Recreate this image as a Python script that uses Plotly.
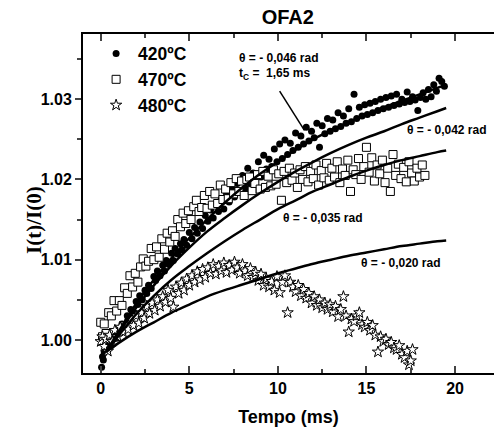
import plotly.graph_objects as go

# ---- fitted curves ----
fit_x = [0.3, 1, 2, 3, 4, 5, 6, 7, 8, 9, 10, 11, 12, 13, 14, 15, 16, 17, 18, 19, 19.5]
fit_046 = [0.9985, 1.0010, 1.0045, 1.0075, 1.0102, 1.0127, 1.0150, 1.0171, 1.0190, 1.0207, 1.0222,
           1.0237, 1.0250, 1.0261, 1.0271, 1.0281, 1.0290, 1.0298, 1.0306, 1.0314, 1.0318]
fit_042 = [0.9985, 1.0008, 1.0040, 1.0068, 1.0093, 1.0115, 1.0135, 1.0152, 1.0168, 1.0183, 1.0197,
           1.0210, 1.0222, 1.0233, 1.0243, 1.0252, 1.0260, 1.0269, 1.0277, 1.0285, 1.0289]
fit_035 = [0.9985, 1.0005, 1.0032, 1.0055, 1.0075, 1.0092, 1.0108, 1.0123, 1.0137, 1.0150, 1.0163,
           1.0174, 1.0185, 1.0194, 1.0203, 1.0211, 1.0218, 1.0224, 1.0229, 1.0234, 1.0236]
fit_020 = [0.9985, 0.9996, 1.0010, 1.0022, 1.0034, 1.0044, 1.0054, 1.0062, 1.0069, 1.0076, 1.0083,
           1.0089, 1.0095, 1.0100, 1.0105, 1.0109, 1.0113, 1.0117, 1.0120, 1.0123, 1.0124]

pts420 = [
    (0.05, 0.9966), (0.1, 0.9979), (0.15, 0.9975), (0.2, 0.9984), (0.3, 0.9990), (0.4, 0.9987),
    (0.5, 0.9996), (0.6, 0.9993), (0.7, 1.0001), (0.8, 1.0006), (0.9, 1.0002), (1.0, 1.0012),
    (1.1, 1.0010), (1.2, 1.0020), (1.35, 1.0018), (1.5, 1.0030), (1.6, 1.0026), (1.7, 1.0038),
    (1.85, 1.0034), (2.0, 1.0048), (2.1, 1.0044), (2.2, 1.0055), (2.35, 1.0050), (2.5, 1.0062),
    (2.6, 1.0058), (2.7, 1.0068), (2.85, 1.0064), (3.0, 1.0079), (3.1, 1.0074), (3.2, 1.0086),
    (3.35, 1.0080), (3.5, 1.0093), (3.6, 1.0086), (3.7, 1.0099), (3.85, 1.0094), (4.0, 1.0108),
    (4.1, 1.0099), (4.2, 1.0114), (4.35, 1.0107), (4.5, 1.0120), (4.6, 1.0112), (4.7, 1.0125),
    (4.85, 1.0118), (5.0, 1.0134), (5.15, 1.0126), (5.3, 1.0140), (5.45, 1.0133), (5.6, 1.0147),
    (5.75, 1.0139), (5.9, 1.0155), (6.05, 1.0148), (6.2, 1.0162), (6.35, 1.0152), (6.5, 1.0168),
    (6.65, 1.0160), (6.8, 1.0175), (6.95, 1.0163), (7.1, 1.0182), (7.25, 1.0172), (7.4, 1.0190),
    (7.55, 1.0178), (7.7, 1.0195), (7.85, 1.0184), (8.0, 1.0205), (8.15, 1.0189), (8.3, 1.0214),
    (8.45, 1.0194), (8.6, 1.0208), (8.75, 1.0200), (8.9, 1.0222), (9.05, 1.0203), (9.2, 1.0230),
    (9.35, 1.0213), (9.5, 1.0225), (9.65, 1.0216), (9.8, 1.0238), (9.95, 1.0222), (10.1, 1.0244),
    (10.25, 1.0226), (10.4, 1.0249), (10.55, 1.0231), (10.7, 1.0245), (10.85, 1.0236), (11.0, 1.0258),
    (11.15, 1.0240), (11.3, 1.0254), (11.45, 1.0244), (11.6, 1.0265), (11.75, 1.0248), (11.9, 1.0260),
    (12.05, 1.0252), (12.2, 1.0270), (12.35, 1.0240), (12.5, 1.0267), (12.65, 1.0257), (12.8, 1.0276),
    (12.95, 1.0260), (13.1, 1.0274), (13.25, 1.0263), (13.4, 1.0283), (13.55, 1.0266), (13.7, 1.0279),
    (13.85, 1.0270), (14.0, 1.0288), (14.15, 1.0272), (14.3, 1.0306), (14.45, 1.0276), (14.6, 1.0290),
    (14.75, 1.0279), (14.9, 1.0293), (15.05, 1.0281), (15.2, 1.0295), (15.35, 1.0283), (15.5, 1.0297),
    (15.65, 1.0286), (15.8, 1.0300), (15.95, 1.0288), (16.1, 1.0302), (16.25, 1.0290), (16.4, 1.0304),
    (16.55, 1.0292), (16.7, 1.0306), (16.85, 1.0294), (17.0, 1.0300), (17.15, 1.0296), (17.3, 1.0309),
    (17.45, 1.0297), (17.6, 1.0303), (17.75, 1.0299), (17.9, 1.0286), (18.05, 1.0302), (18.2, 1.0308),
    (18.35, 1.0300), (18.5, 1.0312), (18.65, 1.0303), (18.8, 1.0318), (18.95, 1.0310), (19.1, 1.0326),
    (19.25, 1.0322), (19.4, 1.0316),
]

pts470 = [
    (0.0, 1.0022), (0.1, 1.0004), (0.2, 1.0020), (0.3, 1.0008), (0.45, 1.0034), (0.6, 1.0030),
    (0.75, 1.0049), (0.9, 1.0036), (1.05, 1.0049), (1.2, 1.0043), (1.35, 1.0065), (1.5, 1.0058),
    (1.65, 1.0080), (1.8, 1.0066), (1.95, 1.0083), (2.1, 1.0072), (2.25, 1.0091), (2.4, 1.0101),
    (2.55, 1.0092), (2.7, 1.0098), (2.85, 1.0114), (3.0, 1.0100), (3.15, 1.0116), (3.3, 1.0103),
    (3.45, 1.0126), (3.6, 1.0113), (3.75, 1.0133), (3.9, 1.0122), (4.05, 1.0136), (4.2, 1.0129),
    (4.35, 1.0150), (4.5, 1.0141), (4.65, 1.0158), (4.8, 1.0145), (4.95, 1.0161), (5.1, 1.0150),
    (5.25, 1.0166), (5.4, 1.0174), (5.55, 1.0160), (5.7, 1.0165), (5.85, 1.0180), (6.0, 1.0164),
    (6.15, 1.0185), (6.3, 1.0168), (6.45, 1.0182), (6.6, 1.0170), (6.75, 1.0193), (6.9, 1.0175),
    (7.05, 1.0188), (7.2, 1.0176), (7.35, 1.0196), (7.5, 1.0182), (7.65, 1.0201), (7.8, 1.0185),
    (7.95, 1.0198), (8.1, 1.0180), (8.25, 1.0200), (8.4, 1.0203), (8.55, 1.0186), (8.7, 1.0195),
    (8.85, 1.0206), (9.0, 1.0188), (9.15, 1.0210), (9.3, 1.0190), (9.45, 1.0204), (9.6, 1.0192),
    (9.75, 1.0212), (9.9, 1.0194), (10.05, 1.0207), (10.2, 1.0174), (10.35, 1.0210), (10.5, 1.0196),
    (10.65, 1.0214), (10.8, 1.0199), (10.95, 1.0208), (11.1, 1.0190), (11.25, 1.0212), (11.4, 1.0200),
    (11.55, 1.0216), (11.7, 1.0197), (11.85, 1.0210), (12.0, 1.0201), (12.15, 1.0218), (12.3, 1.0193),
    (12.45, 1.0211), (12.6, 1.0202), (12.75, 1.0220), (12.9, 1.0199), (13.05, 1.0214), (13.2, 1.0203),
    (13.35, 1.0222), (13.5, 1.0196), (13.65, 1.0213), (13.8, 1.0205), (13.95, 1.0224), (14.1, 1.0185),
    (14.25, 1.0212), (14.4, 1.0206), (14.55, 1.0226), (14.7, 1.0200), (14.85, 1.0216), (15.0, 1.0240),
    (15.15, 1.0209), (15.3, 1.0227), (15.45, 1.0198), (15.6, 1.0218), (15.75, 1.0207), (15.9, 1.0224),
    (16.05, 1.0196), (16.2, 1.0214), (16.35, 1.0185), (16.5, 1.0231), (16.65, 1.0205), (16.8, 1.0219),
    (16.95, 1.0201), (17.1, 1.0215), (17.25, 1.0197), (17.4, 1.0222), (17.55, 1.0208), (17.7, 1.0198),
    (17.85, 1.0214), (18.0, 1.0203), (18.15, 1.0218), (18.3, 1.0205),
]

pts480 = [
    (0.0, 0.9998), (0.1, 1.0004), (0.2, 0.9992), (0.3, 1.0001), (0.4, 0.9986), (0.5, 1.0006),
    (0.65, 0.9998), (0.8, 1.0012), (0.95, 1.0004), (1.1, 1.0016), (1.25, 1.0010), (1.4, 1.0020),
    (1.55, 1.0013), (1.7, 1.0026), (1.85, 1.0018), (2.0, 1.0030), (2.15, 1.0021), (2.3, 1.0034),
    (2.45, 1.0027), (2.6, 1.0042), (2.75, 1.0033), (2.9, 1.0046), (3.05, 1.0037), (3.2, 1.0050),
    (3.35, 1.0042), (3.5, 1.0054), (3.65, 1.0047), (3.8, 1.0062), (3.95, 1.0052), (4.1, 1.0041),
    (4.25, 1.0066), (4.4, 1.0058), (4.55, 1.0071), (4.7, 1.0062), (4.85, 1.0076), (5.0, 1.0068),
    (5.15, 1.0080), (5.3, 1.0072), (5.45, 1.0085), (5.6, 1.0075), (5.75, 1.0088), (5.9, 1.0078),
    (6.05, 1.0090), (6.2, 1.0083), (6.35, 1.0094), (6.5, 1.0082), (6.65, 1.0092), (6.8, 1.0086),
    (6.95, 1.0096), (7.1, 1.0084), (7.25, 1.0093), (7.4, 1.0087), (7.55, 1.0097), (7.7, 1.0090),
    (7.85, 1.0083), (8.0, 1.0094), (8.15, 1.0086), (8.3, 1.0080), (8.45, 1.0089), (8.6, 1.0078),
    (8.75, 1.0084), (8.9, 1.0074), (9.05, 1.0082), (9.2, 1.0068), (9.35, 1.0076), (9.5, 1.0066),
    (9.65, 1.0073), (9.8, 1.0062), (9.95, 1.0079), (10.1, 1.0059), (10.25, 1.0072), (10.4, 1.0080),
    (10.55, 1.0034), (10.7, 1.0072), (10.85, 1.0066), (11.0, 1.0060), (11.15, 1.0068), (11.3, 1.0055),
    (11.45, 1.0063), (11.6, 1.0052), (11.75, 1.0058), (11.9, 1.0046), (12.05, 1.0054), (12.2, 1.0043),
    (12.35, 1.0050), (12.5, 1.0040), (12.65, 1.0046), (12.8, 1.0038), (12.95, 1.0044), (13.1, 1.0035),
    (13.25, 1.0042), (13.4, 1.0029), (13.55, 1.0038), (13.7, 1.0054), (13.85, 1.0030), (14.0, 1.0010),
    (14.15, 1.0026), (14.3, 1.0023), (14.45, 1.0030), (14.6, 1.0034), (14.75, 1.0019), (14.9, 1.0016),
    (15.05, 1.0022), (15.2, 1.0012), (15.35, 1.0018), (15.5, 1.0006), (15.65, 0.9985), (15.8, 1.0004),
    (15.95, 0.9998), (16.1, 1.0001), (16.25, 0.9994), (16.4, 0.9997), (16.55, 0.9990), (16.7, 0.9988),
    (16.85, 0.9993), (17.0, 0.9982), (17.15, 0.9978), (17.3, 0.9986), (17.4, 0.9969), (17.5, 0.9974),
    (17.6, 0.9988),
]

series_names = ["420ºC", "470ºC", "480ºC"]
fit_labels = ["θ = - 0,046 rad", "θ = - 0,042 rad", "θ = - 0,035 rad", "θ = - 0,020 rad"]
x_ticks = [0, 5, 10, 15, 20]
y_ticks = [1.00, 1.01, 1.02, 1.03]

FONT = "Arial, Liberation Sans, sans-serif"
fig = go.Figure()

sym = [("circle", "black", 7, 0), ("square", "white", 8, 1), ("star", "white", 8.5, 1)]
for name, pts, (s, fc, sz, lw) in zip(series_names, [pts420, pts470, pts480], sym):
    fig.add_trace(go.Scatter(
        x=[p[0] for p in pts], y=[p[1] for p in pts], mode="markers", name=name,
        marker=dict(symbol=s, color=fc, size=sz, line=dict(color="black", width=lw)),
    ))

for fy in [fit_046, fit_042, fit_035, fit_020]:
    fig.add_trace(go.Scatter(x=fit_x, y=fy, mode="lines", showlegend=False,
                             line=dict(color="black", width=2.5, shape="spline")))

ann_font = dict(family=FONT, size=12, color="black", weight="bold")
annotations = [
    dict(x=7.7, y=1.0351, text=fit_labels[0]),
    dict(x=7.7, y=1.0331, text="t<sub>C</sub> =  1,65 ms"),
    dict(x=17.15, y=1.0261, text=fit_labels[1]),
    dict(x=10.17, y=1.01525, text=fit_labels[2]),
    dict(x=14.58, y=1.0096, text=fit_labels[3]),
]
for a in annotations:
    fig.add_annotation(xref="x", yref="y", xanchor="left", yanchor="middle",
                       showarrow=False, font=ann_font, **a)

fig.add_shape(type="line", xref="x", yref="y", x0=10.1, y0=1.0310, x1=11.5, y1=1.0261,
              line=dict(color="black", width=1.5))

# y-axis title (Times-like)
fig.add_annotation(xref="paper", yref="paper", x=-0.152, y=0.45, text="I(t)/I(0)",
                   textangle=-90, showarrow=False,
                   font=dict(family="Liberation Serif, Times New Roman, serif", size=21,
                             color="black", weight="bold"))

fig.update_layout(
    width=494, height=432,
    margin=dict(l=83, r=0, t=34, b=59, autoexpand=False),
    paper_bgcolor="white", plot_bgcolor="white",
    title=dict(text="OFA2", x=0.5825, xanchor="center", y=0.96, yanchor="middle",
               font=dict(family=FONT, size=20, color="black", weight="bold")),
    showlegend=True,
    legend=dict(x=0.027, y=0.995, xanchor="left", yanchor="top", bgcolor="rgba(0,0,0,0)",
                font=dict(family=FONT, size=17.5, color="black", weight="bold"),
                tracegroupgap=0, itemsizing="trace", itemwidth=34),
    xaxis=dict(range=[-1, 22.2], tickvals=x_ticks, ticks="inside", ticklen=7, tickwidth=1.5,
               showline=True, linecolor="black", linewidth=2, mirror="ticks",
               showgrid=False, zeroline=False, automargin=False,
               minor=dict(ticks="inside", ticklen=4, tickwidth=1.5, dtick=2.5, tick0=0,
                          showgrid=False),
               tickfont=dict(family=FONT, size=16, color="black", weight="bold"),
               title=dict(text="Tempo (ms)", standoff=14,
                          font=dict(family=FONT, size=18, color="black", weight="bold"))),
    yaxis=dict(range=[0.99588, 1.03812], tickvals=y_ticks, tickformat=".2f",
               ticks="outside", ticklen=6, tickwidth=1.5,
               showline=True, linecolor="black", linewidth=2, mirror=False,
               showgrid=False, zeroline=False, automargin=False,
               minor=dict(ticks="outside", ticklen=4, tickwidth=1.5, dtick=0.005, tick0=1.0,
                          showgrid=False),
               tickfont=dict(family=FONT, size=16, color="black", weight="bold")),
)

fig.write_html("out.html", config={"displayModeBar": False},
               post_script="document.body.style.margin='0';document.body.style.padding='0';")
